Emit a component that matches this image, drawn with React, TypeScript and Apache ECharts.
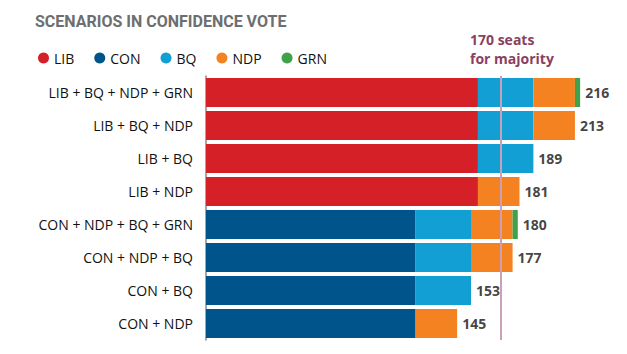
import React, { useEffect, useRef } from "react";
import * as echarts from "echarts";

const categories = [
  "LIB + BQ + NDP + GRN",
  "LIB + BQ + NDP",
  "LIB + BQ",
  "LIB + NDP",
  "CON + NDP + BQ + GRN",
  "CON + NDP + BQ",
  "CON + BQ",
  "CON + NDP",
];
const lib = [157, 157, 157, 157, 0, 0, 0, 0];
const con = [0, 0, 0, 0, 121, 121, 121, 121];
const bq = [32, 32, 32, 0, 32, 32, 32, 0];
const ndp = [24, 24, 0, 24, 24, 24, 0, 24];
const grn = [3, 0, 0, 0, 3, 0, 0, 0];
const totals = [216, 213, 189, 181, 180, 177, 153, 145];
const majority = 170;
const parties = ["LIB", "CON", "BQ", "NDP", "GRN"];

const colors: Record<string, string> = {
  LIB: "#d62027",
  CON: "#00548c",
  BQ: "#129fd4",
  NDP: "#f58220",
  GRN: "#3fa24a",
};

export default function App() {
  const ref = useRef<HTMLDivElement>(null);
  useEffect(() => {
    document.body.style.margin = "0";
    const chart = echarts.init(ref.current!, null, { renderer: "svg" });
    const font = "'Open Sans', sans-serif";
    const mk = (name: string, data: number[]) => ({
      name,
      type: "bar",
      stack: "total",
      barWidth: 29,
      data: data.map((v) => (v === 0 ? null : v)),
      itemStyle: { color: colors[name] },
      emphasis: { disabled: true },
    });
    const series: any[] = [
      mk("LIB", lib),
      mk("CON", con),
      mk("BQ", bq),
      mk("NDP", ndp),
      mk("GRN", grn),
    ];
    series[0].markLine = {
      silent: true,
      symbol: "none",
      label: { show: false },
      lineStyle: { color: "#c9a0b6", width: 2, type: "solid" },
      data: [{ xAxis: majority }],
    };
    series.push({
      type: "scatter",
      data: totals.map((t, i) => [t, categories[i]]),
      symbolSize: 0,
      silent: true,
      label: {
        show: true,
        position: "right",
        distance: 5,
        formatter: (p: any) => String(p.value[0]),
        fontFamily: font,
        fontWeight: "bold",
        fontSize: 14,
        color: "#111",
      },
    });
    chart.setOption({
      animation: false,
      textStyle: { fontFamily: font },
      title: {
        text: "SCENARIOS IN CONFIDENCE VOTE",
        left: 30,
        top: 8,
        textStyle: {
          fontFamily: "Roboto, sans-serif",
          fontSize: 16,
          fontWeight: "bold",
          color: "#6d6e70",
        },
      },
      legend: {
        left: 33,
        top: 46,
        icon: "circle",
        itemWidth: 11,
        itemHeight: 11,
        itemGap: 20,
        data: parties,
        textStyle: {
          fontFamily: font,
          fontSize: 14,
          color: "#111",
        },
      },
      graphic: [
        {
          type: "text",
          left: 470,
          top: 30,
          style: {
            text: "170 seats\nfor majority",
            fontFamily: font,
            fontSize: 14,
            fontWeight: "bold",
            fill: "#8a3f63",
            lineHeight: 19,
          },
        },
      ],
      grid: { left: 206, top: 76, width: 415.7, height: 264 },
      xAxis: {
        type: "value",
        min: 0,
        max: 240,
        show: false,
      },
      yAxis: {
        type: "category",
        inverse: true,
        data: categories,
        axisLine: { show: true, lineStyle: { color: "#888", width: 1.5 } },
        axisTick: { show: false },
        axisLabel: { fontFamily: font, fontSize: 14, color: "#111", margin: 13 },
      },
      series,
    });
    return () => chart.dispose();
  }, []);
  return <div ref={ref} style={{ width: 627, height: 354 }} />;
}
